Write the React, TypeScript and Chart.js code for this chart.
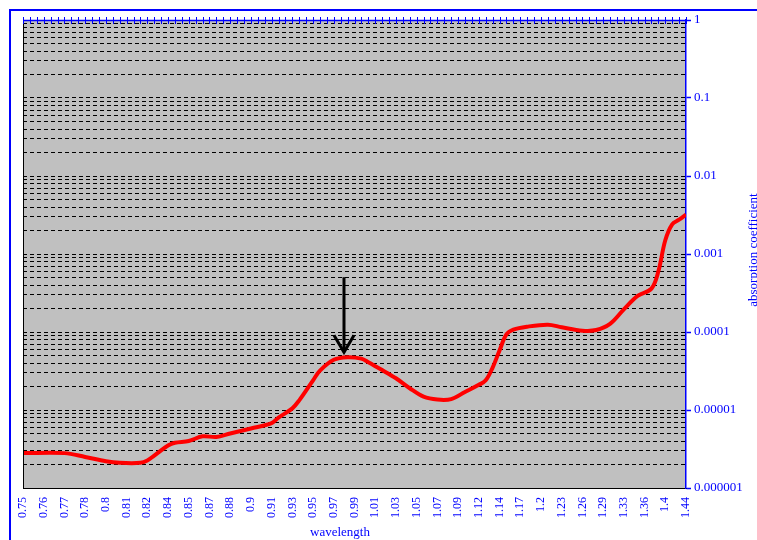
import React, { useEffect, useRef } from 'react';
import { Chart, registerables } from 'chart.js';

Chart.register(...registerables);

// Wavelength labels shown on the category axis (one every third sample position)
const wavelengthLabels = [
  '0.75', '0.76', '0.77', '0.78', '0.8', '0.81', '0.82', '0.84', '0.85', '0.87', '0.88',
  '0.9', '0.91', '0.93', '0.95', '0.97', '0.99', '1.01', '1.03', '1.05', '1.07', '1.09',
  '1.12', '1.14', '1.17', '1.2', '1.23', '1.26', '1.29', '1.33', '1.36', '1.4', '1.44',
];
const samplesPerLabel = 3;

// Sample positions along the wavelength axis (0 .. 96) and absorption coefficient at each
const sampleIndex = [
  0, 6, 9, 12, 14, 17, 18, 19, 21, 22, 24, 26, 28, 30, 33, 36, 37, 39, 40, 42, 43, 45, 47,
  49, 50, 52, 54, 56, 58, 60, 62, 64, 66, 67, 68, 69, 70, 71, 73, 76, 78, 81, 83, 85, 87,
  89, 91, 92, 93, 94, 95, 96,
];
const absorption = [
  2.8e-6, 2.8e-6, 2.5e-6, 2.2e-6, 2.1e-6, 2.1e-6, 2.25e-6, 2.6e-6, 3.5e-6, 3.8e-6, 4.0e-6,
  4.6e-6, 4.5e-6, 5.0e-6, 5.8e-6, 6.8e-6, 8.0e-6, 1.05e-5, 1.33e-5, 2.4e-5, 3.2e-5, 4.4e-5,
  4.75e-5, 4.55e-5, 4.1e-5, 3.25e-5, 2.55e-5, 1.9e-5, 1.48e-5, 1.36e-5, 1.38e-5, 1.7e-5,
  2.1e-5, 2.4e-5, 3.5e-5, 5.8e-5, 9.3e-5, 1.07e-4, 1.17e-4, 1.24e-4, 1.15e-4, 1.04e-4,
  1.06e-4, 1.27e-4, 1.95e-4, 2.9e-4, 3.6e-4, 6.0e-4, 1.5e-3, 2.4e-3, 2.75e-3, 3.2e-3,
];

// Logarithmic value axis: labelled decades plus minor steps
const decades = [1, 0.1, 0.01, 0.001, 0.0001, 0.00001, 0.000001];
const decadeLabels = ['1', '0.1', '0.01', '0.001', '0.0001', '0.00001', '0.000001'];
const minorSteps = [2, 3, 4, 5, 6, 7, 8, 9];

// Marked absorption peak (0.98)
const peakIndex = 46.5;
const peakValue = 4.75e-5;

const BLUE = '#0000FF';
const FONT = "'Liberation Serif', 'Times New Roman', serif";

const yTickValues: number[] = [];
decades.forEach((d) => {
  yTickValues.push(d);
  if (d < 1) minorSteps.forEach((m) => yTickValues.push(parseFloat((m * d).toPrecision(6))));
});

const isDecade = (v: number) => decades.findIndex((d) => Math.abs(v - d) / d < 1e-6);

const framePlugin = {
  id: 'frame',
  beforeDraw(chart: any) {
    const { ctx, chartArea: a, width, height } = chart;
    ctx.save();
    ctx.fillStyle = '#ffffff';
    ctx.fillRect(0, 0, width, height);
    // outer chart border
    ctx.strokeStyle = BLUE;
    ctx.lineWidth = 2;
    ctx.beginPath();
    ctx.moveTo(10, height);
    ctx.lineTo(10, 10);
    ctx.lineTo(width, 10);
    ctx.stroke();
    // plot area fill
    ctx.fillStyle = '#C0C0C0';
    ctx.fillRect(a.left, a.top, a.right - a.left, a.bottom - a.top);
    ctx.restore();
  },
  afterDatasetsDraw(chart: any) {
    const { ctx } = chart;
    const xs = chart.scales.x;
    const ys = chart.scales.y;
    const x = Math.round(xs.getPixelForValue(peakIndex));
    const tip = ys.getPixelForValue(peakValue) - 5;
    ctx.save();
    ctx.strokeStyle = '#000';
    ctx.lineWidth = 3;
    ctx.lineCap = 'butt';
    ctx.beginPath();
    ctx.moveTo(x, tip - 75);
    ctx.lineTo(x, tip);
    ctx.stroke();
    ctx.beginPath();
    ctx.moveTo(x - 10, tip - 17);
    ctx.lineTo(x, tip);
    ctx.lineTo(x + 10, tip - 17);
    ctx.stroke();
    ctx.restore();
  },
  afterDraw(chart: any) {
    const { ctx, chartArea: a, height } = chart;
    const xs = chart.scales.x;
    ctx.save();
    // left plot border
    ctx.strokeStyle = '#000';
    ctx.lineWidth = 1;
    ctx.beginPath();
    ctx.moveTo(a.left + 0.5, a.top);
    ctx.lineTo(a.left + 0.5, a.bottom);
    ctx.stroke();
    // category axis line with cross tick marks along the top
    ctx.strokeStyle = BLUE;
    ctx.lineWidth = 1.5;
    ctx.beginPath();
    ctx.moveTo(a.left, a.top + 0.5);
    ctx.lineTo(a.right, a.top + 0.5);
    ctx.stroke();
    ctx.lineWidth = 1;
    ctx.beginPath();
    for (let i = 0; i <= (wavelengthLabels.length - 1) * samplesPerLabel; i++) {
      const px = Math.round(xs.getPixelForValue(i)) + 0.5;
      ctx.moveTo(px, a.top - 3);
      ctx.lineTo(px, a.top + 4);
    }
    ctx.stroke();
    // axis titles
    ctx.fillStyle = BLUE;
    ctx.font = `13px ${FONT}`;
    ctx.textAlign = 'center';
    ctx.textBaseline = 'middle';
    ctx.fillText('wavelength', 340, height - 7);
    ctx.translate(754, 250);
    ctx.rotate(-Math.PI / 2);
    ctx.fillText('absorption coefficient', 0, 0);
    ctx.restore();
  },
};

export default function App() {
  const canvasRef = useRef<HTMLCanvasElement>(null);

  useEffect(() => {
    if (!canvasRef.current) return;
    const lastIndex = (wavelengthLabels.length - 1) * samplesPerLabel;
    const chart = new Chart(canvasRef.current, {
      type: 'line',
      data: {
        datasets: [
          {
            label: 'absorption coefficient',
            data: sampleIndex.map((x, i) => ({ x, y: absorption[i] })),
            borderColor: '#FF0000',
            borderWidth: 4,
            pointRadius: 0,
            fill: false,
            tension: 0.35,
            borderJoinStyle: 'round',
          },
        ],
      },
      options: {
        animation: false,
        responsive: true,
        maintainAspectRatio: false,
        layout: { padding: { left: 23, top: 20, right: 0, bottom: 0 } },
        plugins: {
          legend: { display: false },
          tooltip: { enabled: false },
          title: { display: false },
        },
        scales: {
          x: {
            type: 'linear',
            position: 'bottom',
            min: 0,
            max: lastIndex,
            afterBuildTicks: (scale: any) => {
              scale.ticks = wavelengthLabels.map((_, k) => ({ value: k * samplesPerLabel }));
            },
            afterFit: (scale: any) => {
              scale.height = 52;
            },
            grid: { display: false, drawTicks: false },
            border: { display: true, color: '#000', width: 1 },
            ticks: {
              autoSkip: false,
              minRotation: 90,
              maxRotation: 90,
              padding: 9,
              color: BLUE,
              font: { family: FONT, size: 12 },
              callback: (v: any) => wavelengthLabels[Math.round(Number(v) / samplesPerLabel)] ?? '',
            },
          },
          y: {
            type: 'logarithmic',
            position: 'right',
            min: 0.000001,
            max: 1,
            afterBuildTicks: (scale: any) => {
              scale.ticks = yTickValues.map((value) => ({ value }));
            },
            afterFit: (scale: any) => {
              scale.width = 71;
            },
            grid: {
              color: '#000',
              lineWidth: 1,
              drawTicks: true,
              tickLength: 5,
              tickWidth: 1.5,
              tickColor: (ctx: any) => (isDecade(ctx.tick?.value ?? 0) >= 0 ? BLUE : 'rgba(0,0,0,0)'),
            },
            border: { display: true, color: BLUE, width: 1.5, dash: [4, 3] },
            ticks: {
              autoSkip: false,
              padding: 3,
              color: BLUE,
              font: { family: FONT, size: 13 },
              callback: (v: any) => {
                const k = isDecade(Number(v));
                return k >= 0 ? decadeLabels[k] : '';
              },
            },
          },
        },
      },
      plugins: [framePlugin],
    });
    return () => chart.destroy();
  }, []);

  return (
    <div style={{ position: 'fixed', left: 0, top: 0, width: 757, height: 540 }}>
      <canvas ref={canvasRef} />
    </div>
  );
}
